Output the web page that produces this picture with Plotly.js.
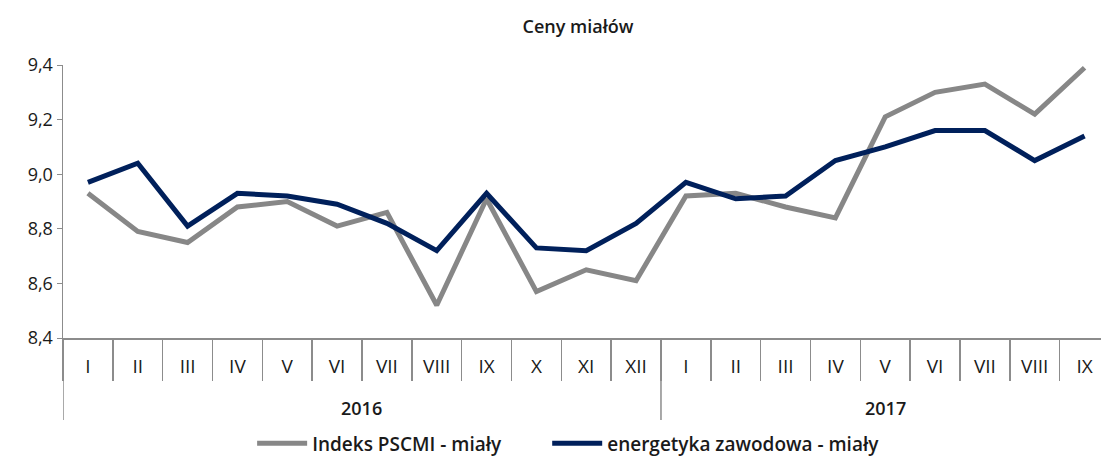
<!DOCTYPE html>
<html>
<head>
<meta charset="utf-8">
<script src="https://cdn.plot.ly/plotly-3.0.1.min.js"></script>
<style>
html,body{margin:0;padding:0;background:#fff;overflow:hidden;}
#chart{width:1101px;height:457px;}
</style>
</head>
<body>
<div id="chart"></div>
<script>
const years = ['2016', '2017'];
const months2016 = ['I','II','III','IV','V','VI','VII','VIII','IX','X','XI','XII'];
const months2017 = ['I','II','III','IV','V','VI','VII','VIII','IX'];
const pscmi = [8.93, 8.79, 8.75, 8.88, 8.90, 8.81, 8.86, 8.52, 8.91, 8.57, 8.65, 8.61,
               8.92, 8.93, 8.88, 8.84, 9.21, 9.30, 9.33, 9.22, 9.39];
const energetyka = [8.97, 9.04, 8.81, 8.93, 8.92, 8.89, 8.82, 8.72, 8.93, 8.73, 8.72, 8.82,
                    8.97, 8.91, 8.92, 9.05, 9.10, 9.16, 9.16, 9.05, 9.14];
const seriesNames = ['Indeks PSCMI - miały', 'energetyka zawodowa - miały'];
const yTicks = [8.4, 8.6, 8.8, 9.0, 9.2, 9.4];

const monthLabels = months2016.concat(months2017);
const idx = monthLabels.map((_, i) => i);
const boundaries = idx.map(i => i - 0.5).concat([monthLabels.length - 0.5]);
const groups = [
  {year: years[0], start: 0, end: months2016.length - 1},
  {year: years[1], start: months2016.length, end: monthLabels.length - 1}
];

const FONT = 'Open Sans, DejaVu Sans, sans-serif';
const AXIS = '#8c8c8c';
const TXT = '#1a1a1a';
const PLOT_H = 457 - 65 - 119;
const yearRowBottom = -82 / PLOT_H;
const yearLabelY = -70 / PLOT_H;

const traces = [
  {x: idx, y: pscmi, name: seriesNames[0], type: 'scatter', mode: 'lines', legend: 'legend',
   line: {color: '#878787', width: 5}},
  {x: idx, y: energetyka, name: seriesNames[1], type: 'scatter', mode: 'lines', legend: 'legend2',
   line: {color: '#00205b', width: 5}}
];

const shapes = groups.map(g => ({
  type: 'line', xref: 'x', yref: 'paper', x0: g.start - 0.5, x1: g.start - 0.5, y0: 0, y1: yearRowBottom,
  line: {color: AXIS, width: 1.5}
}));

const annotations = groups.map(g => ({
  text: g.year, xref: 'x', yref: 'paper', x: (g.start + g.end) / 2, y: yearLabelY,
  xanchor: 'center', yanchor: 'middle', showarrow: false,
  font: {family: FONT, size: 18, color: TXT, weight: 600}
}));
annotations.push({text: 'zł/GJ', xref: 'container', yref: 'container', x: 0.008, y: 0.945,
  xanchor: 'left', yanchor: 'middle', showarrow: false,
  font: {family: FONT, size: 18, color: TXT, weight: 600}});

const legendBase = {orientation: 'h', xref: 'container', xanchor: 'left', y: 0.03, yref: 'container', yanchor: 'middle',
  font: {family: FONT, size: 19, color: TXT, weight: 600}, itemwidth: 50, bgcolor: 'rgba(0,0,0,0)'};

const layout = {
  width: 1101, height: 457,
  margin: {l: 63, r: 0, t: 65, b: 119},
  paper_bgcolor: '#fff', plot_bgcolor: '#fff',
  separators: ', ',
  font: {family: FONT, size: 18, color: TXT},
  title: {text: 'Ceny miałów', x: 0.525, xref: 'container', y: 0.955, yref: 'container',
          font: {family: FONT, size: 18, color: TXT, weight: 600}},
  showlegend: true,
  legend: Object.assign({}, legendBase, {x: 0.229}),
  legend2: Object.assign({}, legendBase, {x: 0.497}),
  xaxis: {range: [-0.5, 20.33], showgrid: false, zeroline: false,
          showline: true, linecolor: AXIS, linewidth: 1.5,
          tickmode: 'array', tickvals: idx, ticktext: monthLabels, ticks: '',
          ticklabelstandoff: 11,
          minor: {tickmode: 'array', tickvals: boundaries, ticks: 'outside', ticklen: 41, tickcolor: AXIS, tickwidth: 1.5, showgrid: false},
          tickfont: {family: FONT, size: 19, color: TXT, weight: 500}},
  yaxis: {range: [8.4, 9.4], tickmode: 'array', tickvals: yTicks, tickformat: '.1f', showgrid: false, zeroline: false,
          showline: true, linecolor: AXIS, linewidth: 1.5, ticks: 'outside', ticklen: 5, tickcolor: AXIS,
          tickfont: {family: FONT, size: 18, color: TXT, weight: 500}},
  shapes: shapes,
  annotations: annotations
};

Plotly.newPlot('chart', traces, layout, {displayModeBar: false, staticPlot: true});
</script>
</body>
</html>
